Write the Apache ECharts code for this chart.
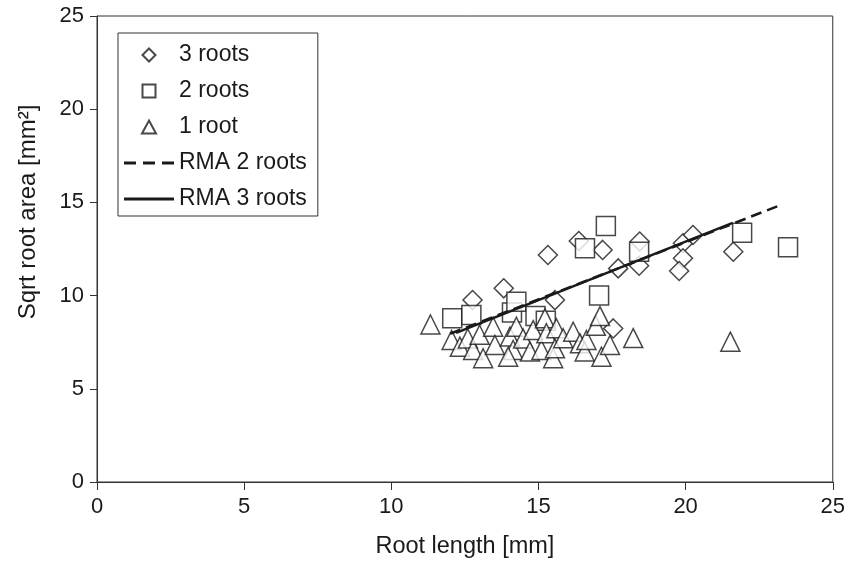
<!DOCTYPE html>
<html>
<head>
<meta charset="utf-8">
<script src="https://cdn.jsdelivr.net/npm/echarts@6/dist/echarts.min.js"></script>
<style>
  html, body { margin: 0; padding: 0; background: #fff; }
  #main { width: 848px; height: 566px; }
</style>
</head>
<body>
<div id="main"></div>
<script>
// root length [mm], sqrt root area [mm]
var roots3 = [
    [12.76, 9.76], [13.82, 10.39], [15.32, 12.18], [15.56, 9.76], [16.37, 12.93],
    [17.18, 12.45], [17.71, 11.46], [17.54, 8.24], [18.44, 12.9], [18.42, 11.6],
    [19.91, 12.81], [20.25, 13.25], [19.91, 12.0], [19.78, 11.32], [21.62, 12.35]
];
var roots2 = [
    [12.07, 8.78], [12.72, 8.96], [14.1, 9.1], [14.25, 9.67], [14.9, 8.9],
    [15.25, 8.65], [16.58, 12.54], [17.29, 13.73], [17.06, 10.0], [18.42, 12.35],
    [21.92, 13.37], [23.48, 12.59]
];
var roots1 = [
    [11.33, 8.45], [12.05, 7.62], [12.33, 7.26], [12.6, 7.7], [12.78, 7.08],
    [13.0, 7.9], [13.12, 6.64], [13.46, 8.33], [13.52, 7.35], [14.03, 7.8],
    [14.14, 7.08], [13.97, 6.72], [14.25, 8.33], [14.48, 7.7], [14.71, 7.0],
    [14.82, 8.15], [15.1, 7.08], [15.22, 8.78], [15.27, 7.98], [15.5, 6.64],
    [15.56, 7.17], [15.61, 8.25], [15.84, 7.71], [16.18, 8.06], [16.41, 7.44],
    [16.57, 7.0], [16.63, 7.62], [16.95, 8.38], [17.09, 8.9], [17.14, 6.72],
    [17.43, 7.35], [18.22, 7.72], [21.52, 7.53]
];
// RMA fits (end points)
var rma2 = [[12.0, 7.95], [23.3, 14.9]];
var rma3 = [[12.2, 8.0], [21.6, 13.9]];

var xTicks = { min: 0, max: 25, interval: 5 };
var yTicks = { min: 0, max: 25, interval: 5 };

var font = "'Liberation Sans', Arial, sans-serif";
var ink = '#1a1a1a';

var chart = echarts.init(document.getElementById('main'));

var markerStyle = {
    color: '#fff',
    borderColor: ink,
    borderWidth: 1.5
};

// legend icons
var iconDiamond = 'path://M7,0L14,7L7,14L0,7Z';
var iconSquare = 'path://M0,0H14V14H0Z';
var iconTriangle = 'path://M7,0L14,13H0Z';
var iconDash = 'path://M0,0H12V3H0Z M19,0H31V3H19Z M38,0H50V3H38Z';
var iconSolid = 'path://M0,0H50V3H0Z';

var option = {
    backgroundColor: '#fff',
    animation: false,
    grid: {
        left: 97,
        right: 15,
        top: 16,
        bottom: 84,
        show: true,
        borderColor: '#333',
        borderWidth: 1
    },
    legend: {
        orient: 'vertical',
        left: 118,
        top: 33,
        padding: [10, 11, 5, 6],
        itemWidth: 50,
        itemHeight: 13,
        itemGap: 12,
        symbolKeepAspect: true,
        borderColor: '#333',
        borderWidth: 1,
        backgroundColor: '#fff',
        textStyle: {
            fontFamily: font,
            fontSize: 23,
            lineHeight: 24,
            color: ink
        },
        data: [
            { name: '3 roots', icon: iconDiamond },
            { name: '2 roots', icon: iconSquare },
            { name: '1 root', icon: iconTriangle },
            { name: 'RMA 2 roots', icon: iconDash, itemStyle: { color: ink, borderWidth: 0 } },
            { name: 'RMA 3 roots', icon: iconSolid, itemStyle: { color: ink, borderWidth: 0 } }
        ]
    },
    xAxis: {
        type: 'value',
        min: xTicks.min,
        max: xTicks.max,
        interval: xTicks.interval,
        name: 'Root length [mm]',
        nameLocation: 'middle',
        nameGap: 53,
        nameTextStyle: { fontFamily: font, fontSize: 23.5, color: ink },
        axisLine: { lineStyle: { color: '#333', width: 1 } },
        axisTick: { inside: false, length: 8, lineStyle: { color: '#333' } },
        axisLabel: { fontFamily: font, fontSize: 22, color: ink, margin: 14 },
        splitLine: { show: false }
    },
    yAxis: {
        type: 'value',
        min: yTicks.min,
        max: yTicks.max,
        interval: yTicks.interval,
        name: 'Sqrt root area [mm²]',
        nameLocation: 'middle',
        nameGap: 57,
        nameTextStyle: { fontFamily: font, fontSize: 24, color: ink, padding: [0, 0, 0, 74] },
        axisLine: { lineStyle: { color: '#333', width: 1 } },
        axisTick: { inside: false, length: 7, lineStyle: { color: '#333' } },
        axisLabel: { fontFamily: font, fontSize: 22, color: ink, margin: 13 },
        splitLine: { show: false }
    },
    series: [{
        name: '3 roots',
        type: 'scatter',
        symbol: 'diamond',
        symbolSize: 19,
        itemStyle: markerStyle,
        data: roots3
    }, {
        name: '2 roots',
        type: 'scatter',
        symbol: 'rect',
        symbolSize: 19,
        itemStyle: markerStyle,
        data: roots2
    }, {
        name: '1 root',
        type: 'scatter',
        symbol: 'triangle',
        symbolSize: 19,
        itemStyle: markerStyle,
        data: roots1
    }, {
        name: 'RMA 2 roots',
        type: 'line',
        symbol: 'none',
        itemStyle: { color: ink },
        lineStyle: { color: ink, width: 2.6, type: [11, 6] },
        data: rma2
    }, {
        name: 'RMA 3 roots',
        type: 'line',
        symbol: 'none',
        itemStyle: { color: ink },
        lineStyle: { color: ink, width: 2.6 },
        data: rma3
    }]
};

chart.setOption(option);
</script>
</body>
</html>
